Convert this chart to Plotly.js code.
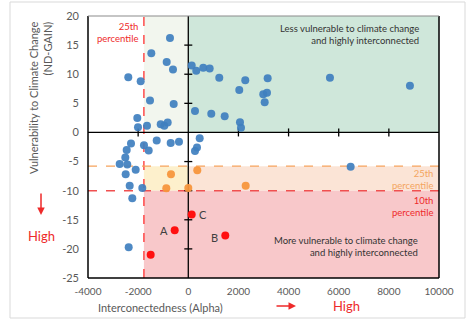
<!DOCTYPE html>
<html>
<head>
<meta charset="utf-8">
<script src="https://cdn.plot.ly/plotly-3.0.1.min.js"></script>
<style>html,body{margin:0;padding:0;background:#fff;}#chart{width:470px;height:322px;}</style>
</head>
<body>
<div id="chart"></div>
<script>
// ---- data ----
const blueX = [-2393,-1899,-1527,-1475,-730,-861,-610,-582,-2034,-2006,-1647,-1100,-957,-822,
  136,319,598,853,1236,267,917,1452,2034,2273,2062,2102,3166,2991,3139,3047,5651,8841,
  -2285,-2457,-2512,-2736,-2433,-2497,-2098,-2337,-1834,-2233,-2377,-1767,-1579,-1260,-702,-371,455,347,267,6476];
const blueY = [9.5,8.8,5.5,13.6,16.2,12.1,10.8,4.9,2.5,0.9,1.15,1.4,1.15,1.7,
  11.5,10.6,11.1,11.0,9.4,3.7,3.2,2.8,7.3,8.95,1.75,0.8,9.3,6.55,6.8,5.2,9.4,8.0,
  -1.9,-3.0,-4.3,-5.4,-5.5,-7.2,-6.4,-9.15,-9.55,-11.3,-19.7,-2.2,-3.1,-1.4,-1.8,-1.6,-1.0,-2.6,-3.2,-5.9];
const orangeX = [-690,359,-877,0,2289];
const orangeY = [-7.2,-6.5,-9.6,-9.55,-9.15];
const redX = [136,-542,1476,-1500];
const redY = [-14.1,-16.8,-17.7,-21.0];
const redLabels = ['C','A','B',''];

const xTickVals = [-4000,-2000,0,2000,4000,6000,8000,10000];
const xTickText = ['-4000','-2000','0','2000','4000','6000','8000','10000'];
const yTickVals = [-25,-20,-15,-10,-5,0,5,10,15,20];
const yTickText = ['-25','-20','-15','-10','-5','0','5','10','15','20'];

const alpha25 = -1770;   // 25th percentile of interconnectedness
const gain25 = -5.8;     // 25th percentile ND-GAIN
const gain10 = -10;      // 10th percentile ND-GAIN
const xMin = -4000, xMax = 10000, yMin = -25, yMax = 20;

// ---- layout helpers (pixel -> paper) ----
const L = 88, R = 31, T = 16, B = 44, W = 470, H = 322;
const pw = W - L - R, ph = H - T - B;
const px = v => (v - L) / pw;
const py = v => (H - B - v) / ph;

const FONT = "Lato, 'Open Sans', sans-serif";
const RED = '#ee2a2a';

const shapes = [];
function rect(x0,x1,y0,y1,color){shapes.push({type:'rect',xref:'x',yref:'y',x0,x1,y0,y1,fillcolor:color,line:{width:0},layer:'below'});}
rect(alpha25,0,0,yMax,'#f2f6ee');
rect(0,xMax,0,yMax,'#cfe7da');
rect(alpha25,0,gain10,gain25,'#fdf0cc');
rect(0,xMax,gain10,gain25,'#fbe4d6');
rect(alpha25,xMax,yMin,gain10,'#f8c8ca');
// percentile lines
shapes.push({type:'line',xref:'x',yref:'y',x0:alpha25,x1:alpha25,y0:yMin,y1:yMax,line:{color:'#ff2020',width:1.2,dash:'dash'},layer:'below'});
shapes.push({type:'line',xref:'x',yref:'y',x0:xMin,x1:xMax,y0:gain25,y1:gain25,line:{color:'#f6a35c',width:1.2,dash:'dash'},layer:'below'});
shapes.push({type:'line',xref:'x',yref:'y',x0:xMin,x1:xMax,y0:gain10,y1:gain10,line:{color:'#f05050',width:1.5,dash:'dash'},layer:'below'});
// zero axes
shapes.push({type:'line',xref:'x',yref:'y',x0:xMin,x1:xMax,y0:0,y1:0,line:{color:'#000',width:1.3},layer:'below'});
shapes.push({type:'line',xref:'x',yref:'y',x0:0,x1:0,y0:yMin,y1:yMax,line:{color:'#000',width:1.3},layer:'below'});
[-2000,2000,4000,6000,8000].forEach(v=>shapes.push({type:'line',xref:'x',yref:'y',ysizemode:'pixel',yanchor:0,x0:v,x1:v,y0:-4,y1:4,line:{color:'#000',width:1.3},layer:'below'}));
[-20,-15,-10,-5,5,10,15].forEach(v=>shapes.push({type:'line',xref:'x',yref:'y',xsizemode:'pixel',xanchor:0,x0:-4,x1:4,y0:v,y1:v,line:{color:'#000',width:1.3},layer:'below'}));
// plot frame
shapes.push({type:'line',xref:'paper',yref:'paper',x0:0,x1:0,y0:0,y1:1,line:{color:'#000',width:1.5}});
shapes.push({type:'line',xref:'paper',yref:'paper',x0:1,x1:1,y0:0,y1:1,line:{color:'#000',width:1.5}});
shapes.push({type:'line',xref:'paper',yref:'paper',x0:0,x1:1,y0:0,y1:0,line:{color:'#000',width:1.5}});
shapes.push({type:'line',xref:'paper',yref:'paper',x0:0,x1:1,y0:1,y1:1,line:{color:'#8c8c8c',width:1.2}});
// chart border
shapes.push({type:'rect',xref:'paper',yref:'paper',x0:px(10),x1:px(465),y0:py(318),y1:py(2),line:{color:'#d9d9d9',width:1},fillcolor:'rgba(0,0,0,0)',layer:'below'});

const annotations = [];
function note(text,x,y,opts){annotations.push(Object.assign({text,xref:'paper',yref:'paper',x:px(x),y:py(y),xanchor:'center',yanchor:'middle',showarrow:false,font:{family:FONT,size:10,color:'#404040'}},opts||{}));}
note('Vulnerability to Climate Change<br>(ND-GAIN)',40,20,{textangle:-90,align:'right',xanchor:'center',yanchor:'top',font:{family:FONT,size:11,color:'#595959'}});
note('Interconectedness (Alpha)',160,307,{font:{family:FONT,size:11,color:'#595959'}});
note('High',41,236,{font:{family:FONT,size:13,color:RED}});
note('High',346,306,{font:{family:FONT,size:13,color:RED}});
annotations.push({xref:'paper',yref:'paper',x:px(41),y:py(215),ax:0,ay:-23,showarrow:true,arrowhead:2,arrowsize:1,arrowwidth:1.5,arrowcolor:RED,text:''});
annotations.push({xref:'paper',yref:'paper',x:px(296),y:py(306),ax:-21,ay:0,showarrow:true,arrowhead:2,arrowsize:1,arrowwidth:1.5,arrowcolor:RED,text:''});
note('25th<br>percentile',140,32,{xanchor:'right',align:'right',font:{family:FONT,size:9.5,color:RED}});
note('25th<br>percentile',435,180,{xanchor:'right',align:'right',font:{family:FONT,size:9.5,color:'#f4a460'}});
note('10th<br>percentile',435,206,{xanchor:'right',align:'right',font:{family:FONT,size:9.5,color:RED}});
note('Less vulnerable to climate change<br>and highly interconnected',421,34.5,{xanchor:'right',align:'right',font:{family:FONT,size:9.5,color:'#333'}});
note('More vulnerable to climate change<br>and highly interconnected',420,246,{xanchor:'right',align:'right',font:{family:FONT,size:9.5,color:'#333'}});
redLabels.forEach((t,i)=>{ if(!t) return; annotations.push({text:t,xref:'x',yref:'y',x:redX[i],y:redY[i],xanchor:'center',yanchor:'middle',showarrow:false,xshift:(t==='C'?11:-11),yshift:(t==='B'?-2:0),font:{family:FONT,size:11,color:'#404040'}});});

const traces = [
  {type:'scatter',mode:'markers',x:blueX,y:blueY,marker:{size:8,color:'#3f7fbf',opacity:0.92},hoverinfo:'skip'},
  {type:'scatter',mode:'markers',x:orangeX,y:orangeY,marker:{size:8,color:'#f7963c',opacity:0.95},hoverinfo:'skip'},
  {type:'scatter',mode:'markers',x:redX,y:redY,marker:{size:8,color:'#ff1010'},hoverinfo:'skip'}
];

const layout = {
  width:W,height:H,margin:{l:L,r:R,t:T,b:B},
  paper_bgcolor:'#fff',plot_bgcolor:'#fff',showlegend:false,
  font:{family:FONT,size:10,color:'#595959'},
  xaxis:{range:[xMin,xMax],tickvals:xTickVals,ticktext:xTickText,showgrid:false,zeroline:false,showline:false,ticks:'',ticklabelstandoff:6,tickfont:{family:FONT,size:10,color:'#595959'}},
  yaxis:{range:[yMin,yMax],tickvals:yTickVals,ticktext:yTickText,showgrid:false,zeroline:false,showline:false,ticks:'',ticklabelstandoff:8,tickfont:{family:FONT,size:11,color:'#595959'}},
  shapes,annotations
};
Plotly.newPlot('chart',traces,layout,{staticPlot:true,displayModeBar:false});
</script>
</body>
</html>
